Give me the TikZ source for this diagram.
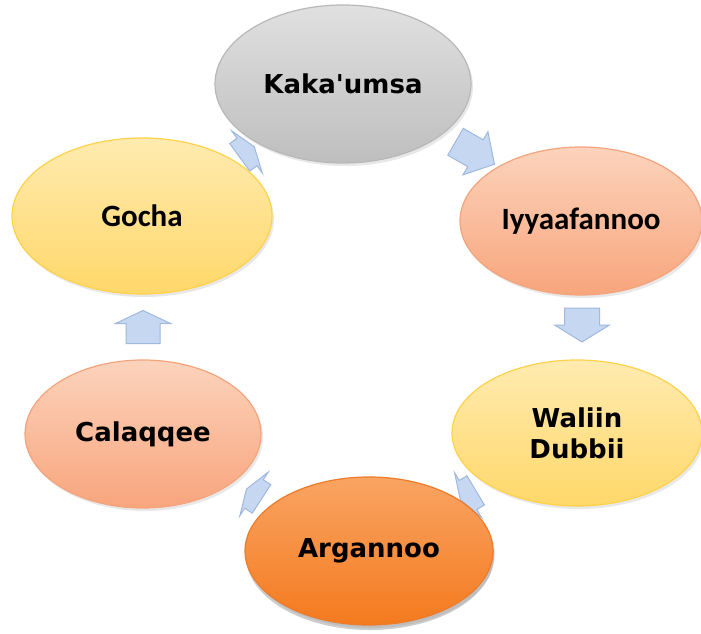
\documentclass[tikz,border=0pt]{standalone}
\usepackage{fontspec}
\setmainfont{DejaVu Sans}
\newfontfamily\comicf{DejaVu Sans}
\newfontfamily\calf{Carlito}
\usetikzlibrary{shadows,shapes.geometric}
\definecolor{arrfill}{HTML}{C6D8F1}
\definecolor{arrdraw}{HTML}{9FB8DE}
\definecolor{salTop}{HTML}{FCD3BC}
\definecolor{salBot}{HTML}{F8A57C}
\definecolor{salDraw}{HTML}{F4A47C}
\definecolor{yelTop}{HTML}{FFEBB0}
\definecolor{yelBot}{HTML}{FFD86A}
\definecolor{yelDraw}{HTML}{FFD24A}
\definecolor{orTop}{HTML}{F9A463}
\definecolor{orBot}{HTML}{F47A1E}
\definecolor{orDraw}{HTML}{EE7B2A}
\definecolor{grTop}{HTML}{E0E0E0}
\definecolor{grBot}{HTML}{BEBEBE}
\definecolor{grDraw}{HTML}{B8B8B8}
\tikzset{
  x=1pt,y=1pt,
  bub/.style={ellipse,inner sep=0pt,line width=1.2pt,shading=axis,
    drop shadow={opacity=0.18,shadow xshift=2pt,shadow yshift=-3pt},
    align=center,text=black},
  grayb/.style={bub,draw=grDraw,top color=grTop,bottom color=grBot},
  salmonb/.style={bub,draw=salDraw,top color=salTop,bottom color=salBot},
  yellowb/.style={bub,draw=yelDraw,top color=yelTop,bottom color=yelBot},
  orangeb/.style={bub,draw=orDraw,top color=orTop,bottom color=orBot,
    drop shadow={opacity=0.4,shadow xshift=1pt,shadow yshift=-5pt}},
  comictxt/.style={font=\comicf\bfseries\fontsize{26}{31}\selectfont},
  caltxt/.style={font=\calf\bfseries\fontsize{31}{35}\selectfont},
  arrowstyle/.style={fill=arrfill,draw=arrdraw,line width=1pt,line join=miter}
}
\newcommand\blockarr[7]{%
  \begin{scope}[shift={(#1,#2)},rotate=#3]
    \draw[arrowstyle] ({-#4/2},{-#5/2}) -- ({#4/2-#7},{-#5/2}) -- ({#4/2-#7},{-#6/2})
      -- ({#4/2},0) -- ({#4/2-#7},{#6/2}) -- ({#4/2-#7},{#5/2}) -- ({-#4/2},{#5/2}) -- cycle;
  \end{scope}}
\begin{document}
\begin{tikzpicture}
\useasboundingbox (0,0) rectangle (701,633);
% arrows
\blockarr{475}{480}{-30}{45}{31}{50}{22}
\blockarr{582}{308}{-90}{34}{35}{55}{17}
\blockarr{468}{138}{-149}{18}{34}{52}{9}
\blockarr{254}{139}{147}{18}{34}{52}{9}
\blockarr{143}{306}{90}{33}{34}{55}{13}
\blockarr{247}{481}{36}{18}{34}{52}{9}
% bubbles
\node[grayb,minimum width=256,minimum height=158,comictxt] (kaka) at (343,549) {Kaka'umsa};
\node[salmonb,minimum width=242,minimum height=148,caltxt] (iyya) at (581,412) {Iyyaafannoo};
\node[yellowb,minimum width=250,minimum height=146,comictxt] (waliin) at (577,200) {Waliin\\Dubbii};
\node[orangeb,minimum width=248,minimum height=148,comictxt] (argan) at (369,82) {Argannoo};
\node[salmonb,minimum width=236,minimum height=148,comictxt] (calaq) at (143,199) {Calaqqee};
\node[yellowb,minimum width=260,minimum height=156,caltxt] (gocha) at (142,417) {Gocha};
\end{tikzpicture}
\end{document}
